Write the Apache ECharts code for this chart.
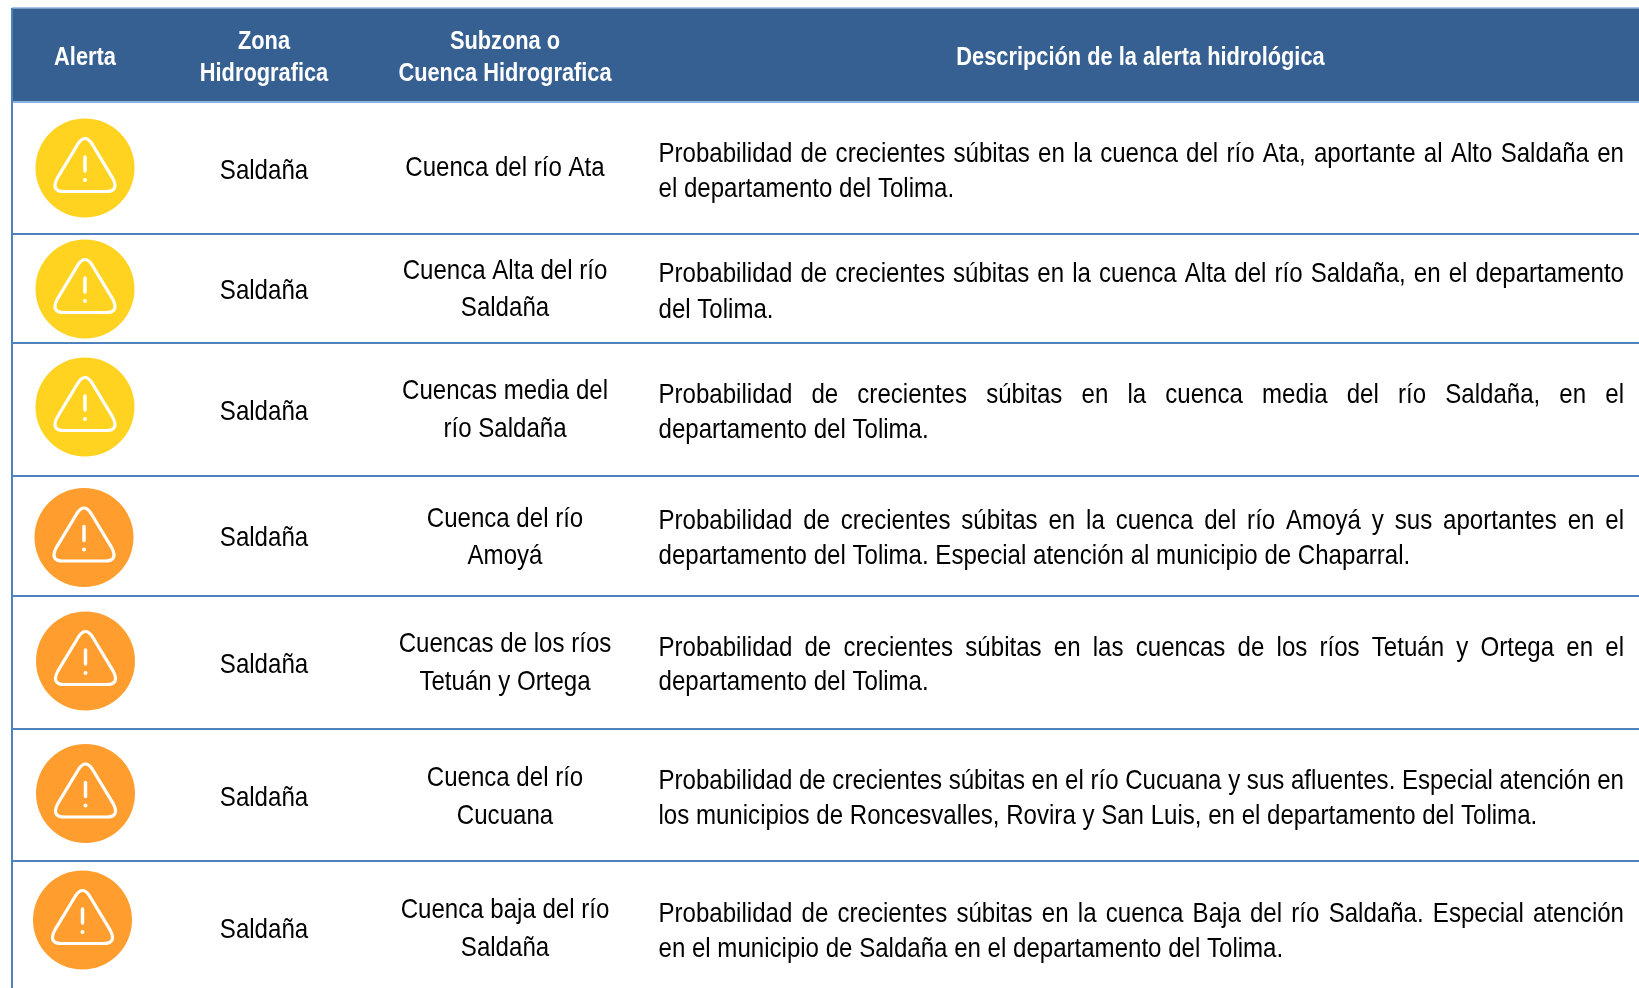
<!DOCTYPE html>
<html>
<head>
<meta charset="utf-8">
<title>Alertas hidrológicas</title>
<style>
  html, body { margin: 0; padding: 0; background: #fff; }
  #table-chart { width: 1639px; height: 988px; }
</style>
<script src="https://cdn.jsdelivr.net/npm/echarts@6/dist/echarts.min.js"></script>
</head>
<body>
<div id="table-chart"></div>
<script>
// table content
const headers = [['Alerta'], ['Zona', 'Hidrografica'], ['Subzona o', 'Cuenca Hidrografica'], ['Descripción de la alerta hidrológica']];
const alertLevels = ['amarilla', 'amarilla', 'amarilla', 'naranja', 'naranja', 'naranja', 'naranja'];
const zonas = ['Saldaña', 'Saldaña', 'Saldaña', 'Saldaña', 'Saldaña', 'Saldaña', 'Saldaña'];
const subzonas = [
  ['Cuenca del río Ata'],
  ['Cuenca Alta del río', 'Saldaña'],
  ['Cuencas media del', 'río Saldaña'],
  ['Cuenca del río', 'Amoyá'],
  ['Cuencas de los ríos', 'Tetuán y Ortega'],
  ['Cuenca del río', 'Cucuana'],
  ['Cuenca baja del río', 'Saldaña'],
];
const descripciones = [
  ['Probabilidad de crecientes súbitas en la cuenca del río Ata, aportante al Alto Saldaña en', 'el departamento del Tolima.'],
  ['Probabilidad de crecientes súbitas en la cuenca Alta del río Saldaña, en el departamento', 'del Tolima.'],
  ['Probabilidad de crecientes súbitas en la cuenca media del río Saldaña, en el', 'departamento del Tolima.'],
  ['Probabilidad de crecientes súbitas en la cuenca del río Amoyá y sus aportantes en el', 'departamento del Tolima. Especial atención al municipio de Chaparral.'],
  ['Probabilidad de crecientes súbitas en las cuencas de los ríos Tetuán y Ortega en el', 'departamento del Tolima.'],
  ['Probabilidad de crecientes súbitas en el río Cucuana y sus afluentes. Especial atención en', 'los municipios de Roncesvalles, Rovira y San Luis, en el departamento del Tolima.'],
  ['Probabilidad de crecientes súbitas en la cuenca Baja del río Saldaña. Especial atención', 'en el municipio de Saldaña en el departamento del Tolima.'],
];

// layout, in page pixels
const W = 1639;
const H = 988;
const HEADER_TOP = 8;
const HEADER_BOTTOM = 102;
const LEFT = 12;
const DESC_LEFT = 658.5;
const DESC_RIGHT = 1624;
const rowLineY = [234, 343, 476, 596, 729, 861];
const iconCenters = [[85, 168], [85, 289], [85, 407], [84, 537.5], [85.5, 661], [85.5, 793.5], [82.5, 920]];
const zonaY = [171, 291.5, 412.5, 538.5, 665.5, 798.5, 930.5];
const subzonaY = [[168], [271, 308], [391, 429.5], [519, 556], [644, 682.5], [778, 816], [910.5, 948]];
const descY = [[154, 189], [274, 310], [395, 430.5], [521.5, 556.5], [648, 682.5], [781, 816], [914.5, 949]];
const headerX = [85, 264, 505, 1140.5];
const headerY = [[58], [42, 74], [42, 74], [58]];
const ZONA_X = 264;
const SUBZONA_X = 505;

const levelColor = { amarilla: '#FFD320', naranja: '#FF9E2E' };
// the source face is narrower than Liberation Sans, so text is squeezed horizontally
const FAMILY = '"Liberation Sans", Arial, sans-serif';
const BODY_FONT = `27.5px ${FAMILY}`;
const HEAD_FONT = `bold 25.5px ${FAMILY}`;
const BODY_SCALE = 0.875;
const HEAD_SCALE = 0.855;

const measure = document.createElement('canvas').getContext('2d');
measure.font = BODY_FONT;
const wordWidth = (w) => measure.measureText(w).width * BODY_SCALE;

function textEl(api, x, y, text, font, fill, align, scale) {
  const p = api.coord([x, y]);
  return {
    type: 'text',
    x: p[0],
    y: p[1],
    scaleX: scale,
    style: { x: 0, y: 0, text, font, fill, align: align || 'center', verticalAlign: 'middle' },
  };
}

// first line of each description is justified, so words are placed one at a time
function justifiedLine(api, line, y) {
  const words = line.split(' ');
  const used = words.reduce((sum, w) => sum + wordWidth(w), 0);
  const gap = (DESC_RIGHT - DESC_LEFT - used) / (words.length - 1);
  let x = DESC_LEFT;
  return words.map((w) => {
    const el = textEl(api, x, y, w, BODY_FONT, '#000', 'left', BODY_SCALE);
    x += wordWidth(w) + gap;
    return el;
  });
}

function renderHeader(params, api) {
  const a = api.coord([LEFT, HEADER_TOP]);
  const b = api.coord([W, HEADER_BOTTOM]);
  const children = [
    { type: 'rect', shape: { x: a[0], y: a[1], width: b[0] - a[0], height: b[1] - a[1] }, style: { fill: '#376092' } },
    { type: 'line', shape: { x1: a[0], y1: a[1], x2: b[0], y2: a[1] }, style: { stroke: '#8DB0DC', lineWidth: 1.5 } },
    { type: 'line', shape: { x1: a[0], y1: b[1], x2: b[0], y2: b[1] }, style: { stroke: '#8DB0DC', lineWidth: 2 } },
    { type: 'line', shape: { x1: a[0], y1: a[1], x2: a[0], y2: api.coord([0, H])[1] }, style: { stroke: '#4F81BD', lineWidth: 2 } },
  ];
  headers.forEach((lines, c) => {
    lines.forEach((t, l) => children.push(textEl(api, headerX[c], headerY[c][l], t, HEAD_FONT, '#fff', 'center', HEAD_SCALE)));
  });
  return { type: 'group', children };
}

function renderRowLine(params, api) {
  const y = api.value(0);
  const a = api.coord([LEFT, y]);
  const b = api.coord([W, y]);
  return { type: 'line', shape: { x1: a[0], y1: a[1], x2: b[0], y2: b[1] }, style: { stroke: '#4F81BD', lineWidth: 2 } };
}

function renderIcon(params, api) {
  const i = params.dataIndex;
  const c = api.coord(iconCenters[i]);
  const triangle = 'M-7 -25 Q0 -36 7 -25 L28 11 Q35 25 21 25 L-21 25 Q-35 25 -28 11 Z';
  return {
    type: 'group',
    x: c[0],
    y: c[1],
    children: [
      { type: 'circle', shape: { cx: 0, cy: 0, r: 49.5 }, style: { fill: levelColor[alertLevels[i]] } },
      {
        type: 'path',
        shape: { pathData: triangle, x: -30, y: -29.5, width: 60, height: 53, layout: 'cover' },
        style: { fill: 'none', stroke: '#fff', lineWidth: 3.2 },
      },
      { type: 'line', shape: { x1: 0, y1: -11, x2: 0, y2: 3 }, style: { stroke: '#fff', lineWidth: 3.5, lineCap: 'round' } },
      { type: 'circle', shape: { cx: 0, cy: 12, r: 2 }, style: { fill: '#fff' } },
    ],
  };
}

function renderRowText(params, api) {
  const i = params.dataIndex;
  const children = [textEl(api, ZONA_X, zonaY[i], zonas[i], BODY_FONT, '#000', 'center', BODY_SCALE)];
  subzonas[i].forEach((t, l) => children.push(textEl(api, SUBZONA_X, subzonaY[i][l], t, BODY_FONT, '#000', 'center', BODY_SCALE)));
  children.push(...justifiedLine(api, descripciones[i][0], descY[i][0]));
  children.push(textEl(api, DESC_LEFT, descY[i][1], descripciones[i][1], BODY_FONT, '#000', 'left', BODY_SCALE));
  return { type: 'group', children };
}

const chart = echarts.init(document.getElementById('table-chart'), null, { renderer: 'canvas' });

chart.setOption({
  animation: false,
  backgroundColor: '#fff',
  tooltip: { show: false },
  grid: { left: 0, right: 0, top: 0, bottom: 0 },
  xAxis: { type: 'value', min: 0, max: W, show: false },
  yAxis: { type: 'value', min: 0, max: H, inverse: true, show: false },
  series: [
    { type: 'custom', silent: true, clip: false, renderItem: renderHeader, data: [[0]], encode: { x: -1, y: -1 } },
    { type: 'custom', silent: true, clip: false, renderItem: renderRowLine, data: rowLineY.map((y) => [y]), encode: { x: -1, y: -1 } },
    { type: 'custom', silent: true, clip: false, renderItem: renderIcon, data: alertLevels.map((l, i) => [i]), encode: { x: -1, y: -1 } },
    { type: 'custom', silent: true, clip: false, renderItem: renderRowText, data: zonas.map((z, i) => [i]), encode: { x: -1, y: -1 } },
  ],
});

window.addEventListener('resize', () => {
  chart.resize();
});
</script>
</body>
</html>
